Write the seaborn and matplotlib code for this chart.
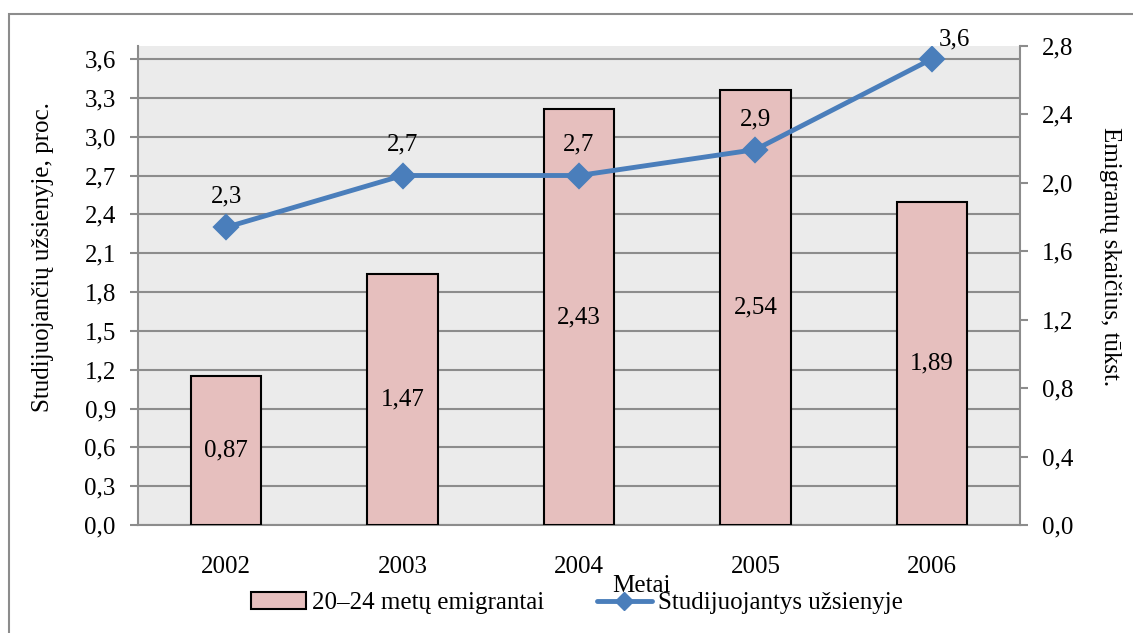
import matplotlib
matplotlib.use('Agg')
import matplotlib.pyplot as plt
import matplotlib.ticker as mticker
from matplotlib.patches import Patch, Rectangle
from matplotlib.lines import Line2D
import seaborn as sns

# duomenys
years = ['2002', '2003', '2004', '2005', '2006']
emigrants = [0.87, 1.47, 2.43, 2.54, 1.89]      # tūkst., dešinė ašis
studying = [2.3, 2.7, 2.7, 2.9, 3.6]            # proc., kairė ašis
left_ticks = [0.0, 0.3, 0.6, 0.9, 1.2, 1.5, 1.8, 2.1, 2.4, 2.7, 3.0, 3.3, 3.6]
right_ticks = [0.0, 0.4, 0.8, 1.2, 1.6, 2.0, 2.4, 2.8]

bar_color = '#e6bfbe'
line_color = '#4a7ebb'
grid_color = '#8c8c8c'
fs = 18

sns.set_style('white')
plt.rcParams['font.family'] = ['Liberation Serif', 'DejaVu Serif']
plt.rcParams['font.size'] = fs
plt.rcParams['text.color'] = 'black'
plt.rcParams['axes.labelcolor'] = 'black'
plt.rcParams['xtick.labelcolor'] = 'black'
plt.rcParams['ytick.labelcolor'] = 'black'

fig = plt.figure(figsize=(11.33, 6.33), dpi=100)
ax = fig.add_axes([138 / 1133, 1 - 525 / 633, 882 / 1133, 479 / 633])
ax.set_facecolor('#ebebeb')

bar_ax = ax.twinx()
line_ax = ax.twinx()

# stulpeliai
sns.barplot(x=years, y=emigrants, ax=bar_ax, color=bar_color, width=0.4,
            edgecolor='black', linewidth=1.5, saturation=1)
bar_ax.bar_label(bar_ax.containers[0], labels=[f'{v:.2f}'.replace('.', ',') for v in emigrants],
                 label_type='center', fontsize=fs, color='black')

# linija
sns.pointplot(x=years, y=studying, ax=line_ax, color=line_color, markers='D',
              markersize=11, linewidth=3.5, errorbar=None)
for i, v in enumerate(studying):
    off = (16, 14) if i == len(studying) - 1 else (0, 22)
    line_ax.annotate(f'{v:.1f}'.replace('.', ','), (i, v), xytext=off,
                     textcoords='offset points', ha='center', va='center',
                     fontsize=fs, color='black')

# ašys
left_max = 3.6 * 479 / 466
ax.set_ylim(0, left_max)
line_ax.set_ylim(0, left_max)
bar_ax.set_ylim(0, 2.8)
ax.set_xlim(-0.5, 4.5)

comma = mticker.FuncFormatter(lambda v, p: f'{v:.1f}'.replace('.', ','))
ax.set_yticks(left_ticks)
ax.yaxis.set_major_formatter(comma)
bar_ax.set_yticks(right_ticks)
bar_ax.yaxis.set_major_formatter(comma)
line_ax.set_yticks([])

ax.grid(axis='y', color=grid_color, linewidth=1.5)
ax.grid(axis='x', visible=False)
ax.set_axisbelow(True)

ax.set_xticks(range(len(years)))
ax.set_xticklabels(years)
ax.set_xticks([i - 0.5 for i in range(len(years) + 1)], minor=True)
ax.tick_params(axis='x', which='major', length=0, pad=22, labelsize=fs)
ax.tick_params(axis='x', which='minor', length=6, width=1.5, color=grid_color, direction='out')
ax.tick_params(axis='y', length=6, width=1.5, color=grid_color, direction='out', pad=10, labelsize=fs)
bar_ax.tick_params(axis='y', length=6, width=1.5, color=grid_color, direction='out', pad=10, labelsize=fs)

for s in ['top', 'right']:
    ax.spines[s].set_visible(False)
for s in ['left', 'bottom']:
    ax.spines[s].set_color(grid_color)
    ax.spines[s].set_linewidth(1.5)
for s in ['top', 'left', 'bottom']:
    bar_ax.spines[s].set_visible(False)
bar_ax.spines['right'].set_color(grid_color)
bar_ax.spines['right'].set_linewidth(1.5)
for s in line_ax.spines.values():
    s.set_visible(False)

ax.set_xlabel('Metai', fontsize=fs)
ax.xaxis.set_label_coords(0.571, -0.105)
ax.set_ylabel('Studijuojančių užsienyje, proc.', fontsize=fs)
ax.yaxis.set_label_coords(-0.095, 0.56)
bar_ax.set_ylabel('Emigrantų skaičius, tūkst.', fontsize=fs, rotation=-90, va='center')
bar_ax.yaxis.set_label_coords(1.102, 0.56)
line_ax.set_ylabel('')
line_ax.set_xlabel('')
bar_ax.set_xlabel('')

handles = [Patch(facecolor=bar_color, edgecolor='black', linewidth=1.5),
           Line2D([], [], color=line_color, linewidth=3.5, marker='D', markersize=9)]
fig.legend(handles, ['20–24 metų emigrantai', 'Studijuojantys užsienyje'],
           loc='center', bbox_to_anchor=(0.509, 0.047), ncol=2, frameon=False,
           fontsize=fs, handlelength=2.2, handletextpad=0.25, columnspacing=2.1)

# rėmelis aplink
fig.patches.append(Rectangle((9 / 1133, -0.1), 1.2, 1 - 14 / 633 + 0.1,
                             transform=fig.transFigure, fill=False,
                             edgecolor=grid_color, linewidth=1.5))

fig.savefig('out.png', dpi=100)
